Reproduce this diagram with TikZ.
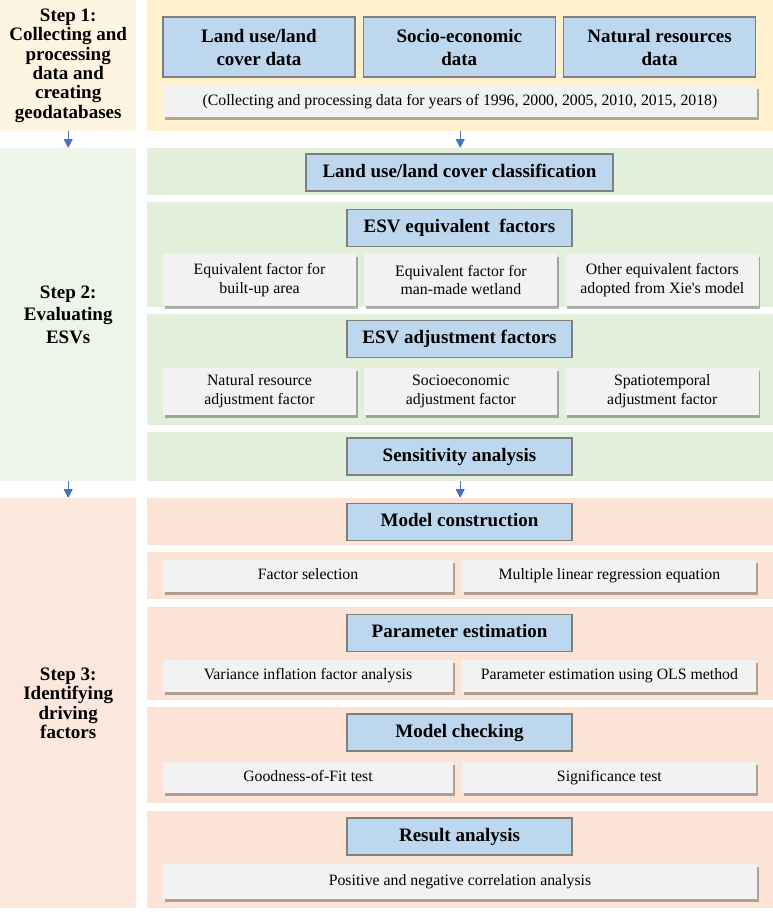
\documentclass[tikz,border=0pt]{standalone}
\usepackage{fontspec}
\setmainfont{Liberation Serif}[Ligatures=TeXOff]
\usetikzlibrary{positioning,arrows.meta,shadows}
\definecolor{yelL}{HTML}{FEF4E2}
\definecolor{yelR}{HTML}{FFF0CE}
\definecolor{grnL}{HTML}{EDF4E8}
\definecolor{grnR}{HTML}{E2EFDA}
\definecolor{orgL}{HTML}{FBE7DB}
\definecolor{orgR}{HTML}{FBE4D5}
\definecolor{hdblue}{HTML}{BDD7EE}
\definecolor{edgegray}{HTML}{7F7F7F}
\definecolor{itemgray}{HTML}{F2F2F2}
\definecolor{flowblue}{HTML}{4472C4}

\begin{document}
\begin{tikzpicture}[x=1pt, y=-1pt,
  stepbox/.style={anchor=north west, minimum width=136pt, inner sep=0pt, align=center, font=\fontsize{19}{19.3}\selectfont\bfseries},
  panel/.style={anchor=north west, minimum width=626pt, inner sep=0pt},
  head/.style={draw=edgegray, line width=1.3pt, fill=hdblue, minimum width=225pt, minimum height=37pt, inner sep=0pt, align=center, font=\fontsize{19}{23}\selectfont\bfseries},
  headone/.style={head, text height=13pt, text depth=4pt},
  sub/.style={fill=itemgray, inner sep=0pt, align=center, font=\fontsize{15.8}{18.7}\selectfont,
    drop shadow={shadow xshift=1.5pt, shadow yshift=-2.5pt, fill=black, opacity=0.3}},
  subone/.style={sub, text height=11pt, text depth=3.5pt},
  arr/.style={-{Triangle[length=9pt,width=9pt]}, flowblue, line width=1.2pt}]
\useasboundingbox (0,0) rectangle (773,914);
% left column
\node[stepbox, fill=yelL, minimum height=131pt] (s1) at (0,0) {Step 1:\\Collecting and\\processing\\data and\\creating\\geodatabases};
\node[stepbox, fill=grnL, minimum height=333pt, font=\fontsize{19}{22.5}\selectfont\bfseries] (s2) at (0,148) {Step 2:\\Evaluating\\ESVs};
\node[stepbox, fill=orgL, minimum height=410pt] (s3) at (0,498) {Step 3:\\Identifying\\driving\\factors};
% right column
\node[panel, fill=yelR, minimum height=131pt] (p1) at (147,0) {};
\node[panel, fill=grnR, minimum height=47pt] (pa) at (147,148) {};
\node[panel, fill=grnR, minimum height=105pt] (pb) at (147,202) {};
\node[panel, fill=grnR, minimum height=111pt] (pc) at (147,314) {};
\node[panel, fill=grnR, minimum height=49pt] (pd) at (147,432) {};
\node[panel, fill=orgR, minimum height=47pt] (pe) at (147,498) {};
\node[panel, fill=orgR, minimum height=47pt] (pf) at (147,552) {};
\node[panel, fill=orgR, minimum height=93pt] (pg) at (147,607) {};
\node[panel, fill=orgR, minimum height=96pt] (ph) at (147,707) {};
\node[panel, fill=orgR, minimum height=97pt] (pi) at (147,811) {};
% step 1
\node[head, minimum width=192pt, minimum height=60pt] (lulc) at (259,47) {Land use/land\\cover data};
\node[head, minimum width=192pt, minimum height=60pt, right=7pt of lulc] (soc) {Socio-economic\\data};
\node[head, minimum width=192pt, minimum height=60pt, right=7pt of soc] (nat) {Natural resources\\data};
\node[subone, minimum width=594pt, minimum height=31pt] (years) at (460,101.5) {(Collecting and processing data for years of 1996, 2000, 2005, 2010, 2015, 2018)};
% step 2
\node[headone, minimum width=307pt] (cls) at (459.5,172.5) {Land use/land cover classification};
\node[headone] (equ) at (459.5,228) {ESV equivalent\ \ factors};
\node[sub, minimum width=193pt, minimum height=52pt] (eqb) at (259.5,280) {Equivalent factor for\\built-up area};
\node[sub, minimum width=193pt, minimum height=52pt, right=8pt of eqb] (eqw) {Equivalent factor for\\man-made wetland};
\node[sub, minimum width=193pt, minimum height=52pt, right=8pt of eqw] (eqo) {Other equivalent factors\\adopted from Xie's model};
\node[headone] (adj) at (459.5,339) {ESV adjustment factors};
\node[sub, minimum width=193pt, minimum height=47pt] (adn) at (259.5,391.5) {Natural resource\\adjustment factor};
\node[sub, minimum width=193pt, minimum height=47pt, right=8pt of adn] (ads) {Socioeconomic\\adjustment factor};
\node[sub, minimum width=193pt, minimum height=47pt, right=8pt of ads] (adt) {Spatiotemporal\\adjustment factor};
\node[headone] (sens) at (459.5,456.5) {Sensitivity analysis};
% step 3
\node[headone] (mod) at (459.5,522) {Model construction};
\node[subone, minimum width=290pt, minimum height=32pt] (fsel) at (308,576) {Factor selection};
\node[subone, minimum width=294pt, minimum height=32pt, right=9pt of fsel] (mlr) {Multiple linear regression equation};
\node[headone] (par) at (459.5,633) {Parameter estimation};
\node[subone, minimum width=290pt, minimum height=32pt] (vif) at (308,676) {Variance inflation factor analysis};
\node[subone, minimum width=294pt, minimum height=32pt, right=9pt of vif] (ols) {Parameter estimation using OLS method};
\node[headone] (chk) at (459.5,732.5) {Model checking};
\node[subone, minimum width=290pt, minimum height=31pt] (gof) at (308,777.5) {Goodness-of-Fit test};
\node[subone, minimum width=294pt, minimum height=31pt, right=9pt of gof] (sig) {Significance test};
\node[headone] (res) at (459.5,836.5) {Result analysis};
\node[subone, minimum width=594pt, minimum height=35pt] (corr) at (460,881.5) {Positive and negative correlation analysis};
% arrows
\draw[arr] (s1) -- (s2);
\draw[arr] (p1) -- (pa);
\draw[arr] (s2) -- (s3);
\draw[arr] (pd) -- (pe);
\end{tikzpicture}
\end{document}
